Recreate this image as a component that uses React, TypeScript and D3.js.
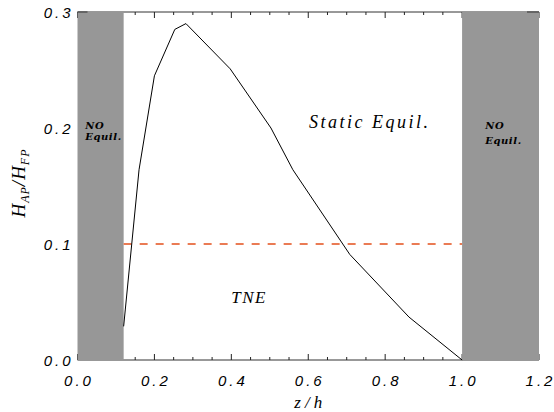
import React from "react";
import * as d3 from "d3";

const zValues = [0.12, 0.16, 0.2, 0.253, 0.282, 0.397, 0.503, 0.56, 0.708, 0.862, 1.0];
const ratioValues = [0.029, 0.164, 0.245, 0.285, 0.29, 0.251, 0.2, 0.164, 0.091, 0.037, 0.0];
const xTickLabels = ["0.0", "0.2", "0.4", "0.6", "0.8", "1.0", "1.2"];
const yTickLabels = ["0.0", "0.1", "0.2", "0.3"];
const noEquilRanges = [
  [0.0, 0.12],
  [1.0, 1.2],
];
const thresholdValue = 0.1;

const W = 554;
const H = 412;
const margin = { left: 77.5, right: 15, top: 12, bottom: 52 };

export default function App() {
  const x = d3.scaleLinear().domain([0, 1.2]).range([margin.left, W - margin.right]);
  const y = d3.scaleLinear().domain([0, 0.3]).range([H - margin.bottom, margin.top]);
  const x0 = x(0), x1 = x(1.2), y0 = y(0), y1 = y(0.3);

  const line = d3
    .line<number>()
    .x((_, i) => x(zValues[i]))
    .y((d) => y(d));

  const minorTicks = d3.range(0, 1.2001, 0.05);
  const majorTicks = xTickLabels.map((t) => +t);

  const tickFont = "'Liberation Sans', 'DejaVu Sans', sans-serif";
  const serif = "'Liberation Serif', 'DejaVu Serif', serif";
  const boldSerif = "'DejaVu Serif', serif";

  return (
    <svg
      width={W}
      height={H}
      style={{ position: "absolute", left: 0, top: 0, background: "#fff" }}
    >
      {/* axes lines */}
      <line x1={x0} x2={x1} y1={y0} y2={y0} stroke="#333" strokeWidth={1} />
      <line x1={x0} x2={x1} y1={y1} y2={y1} stroke="#333" strokeWidth={1} />
      {/* x ticks */}
      {minorTicks.map((t, i) => {
        const major = majorTicks.some((m) => Math.abs(m - t) < 1e-6);
        const len = major ? 6 : 3;
        return (
          <g key={i} stroke="#222" strokeWidth={1}>
            <line x1={x(t)} x2={x(t)} y1={y0} y2={y0 - len} />
            <line x1={x(t)} x2={x(t)} y1={y1} y2={y1 + len} />
          </g>
        );
      })}
      {/* no-equilibrium regions */}
      {noEquilRanges.map(([a, b], i) => (
        <rect key={i} x={x(a)} y={y1} width={x(b) - x(a)} height={y0 - y1} fill="#979797" />
      ))}
      {/* top y ticks visible over gray */}
      <line x1={x0} x2={x0 + 10} y1={y1} y2={y1} stroke="#333" strokeWidth={1} />
      <line x1={x1 - 12} x2={x1} y1={y1} y2={y1} stroke="#333" strokeWidth={1} />
      {/* threshold */}
      <line
        x1={x(noEquilRanges[0][1])}
        x2={x(noEquilRanges[1][0])}
        y1={y(thresholdValue)}
        y2={y(thresholdValue)}
        stroke="#e4501c"
        strokeWidth={1.5}
        strokeDasharray="8 8"
      />
      {/* curve */}
      <path d={line(ratioValues) || ""} fill="none" stroke="#000" strokeWidth={1} />
      {/* x tick labels */}
      {xTickLabels.map((t) => (
        <text
          key={t}
          x={x(+t) + 1.5}
          y={y0 + 26}
          textAnchor="middle"
          fontFamily={tickFont}
          fontStyle="italic"
          fontSize={15}
          letterSpacing={3}
          fill="#000"
        >
          {t}
        </text>
      ))}
      {/* y tick labels */}
      {yTickLabels.map((t) => (
        <text
          key={t}
          x={x0 - 4}
          y={y(+t) + 5.5}
          textAnchor="end"
          fontFamily={tickFont}
          fontStyle="italic"
          fontSize={15}
          letterSpacing={3}
          fill="#000"
        >
          {t}
        </text>
      ))}
      {/* x title */}
      <text
        x={x(0.6) + 2}
        y={H - 4}
        textAnchor="middle"
        fontFamily={serif}
        fontStyle="italic"
        fontSize={17}
        letterSpacing={4}
      >
        z/h
      </text>
      {/* y title */}
      <text
        transform={`translate(25,${(y0 + y1) / 2 - 3}) rotate(-90)`}
        textAnchor="middle"
        fontFamily={serif}
        fontStyle="italic"
        fontSize={19}
        letterSpacing={1}
      >
        <tspan>H</tspan>
        <tspan fontSize={12} dy={4}>AP</tspan>
        <tspan dy={-4}>/H</tspan>
        <tspan fontSize={12} dy={4}>FP</tspan>
      </text>
      {/* region labels */}
      <text x={x(0.602)} y={128} textAnchor="start" fontFamily={serif} fontStyle="italic" fontSize={18} letterSpacing={2.5}>
        Static Equil.
      </text>
      <text x={x(0.4)} y={302.5} textAnchor="start" fontFamily={serif} fontStyle="italic" fontSize={17} letterSpacing={1.5}>
        TNE
      </text>
      <text fontFamily={boldSerif} fontStyle="italic" fontWeight="bold" fontSize={10} letterSpacing={0.6}>
        <tspan x={x(0.02)} y={128.5}>NO</tspan>
        <tspan x={x(0.02)} y={140}>Equil.</tspan>
      </text>
      <text fontFamily={boldSerif} fontStyle="italic" fontWeight="bold" fontSize={10} letterSpacing={0.6}>
        <tspan x={x(1.06)} y={128.5}>NO</tspan>
        <tspan x={x(1.06)} y={144}>Equil.</tspan>
      </text>
    </svg>
  );
}
